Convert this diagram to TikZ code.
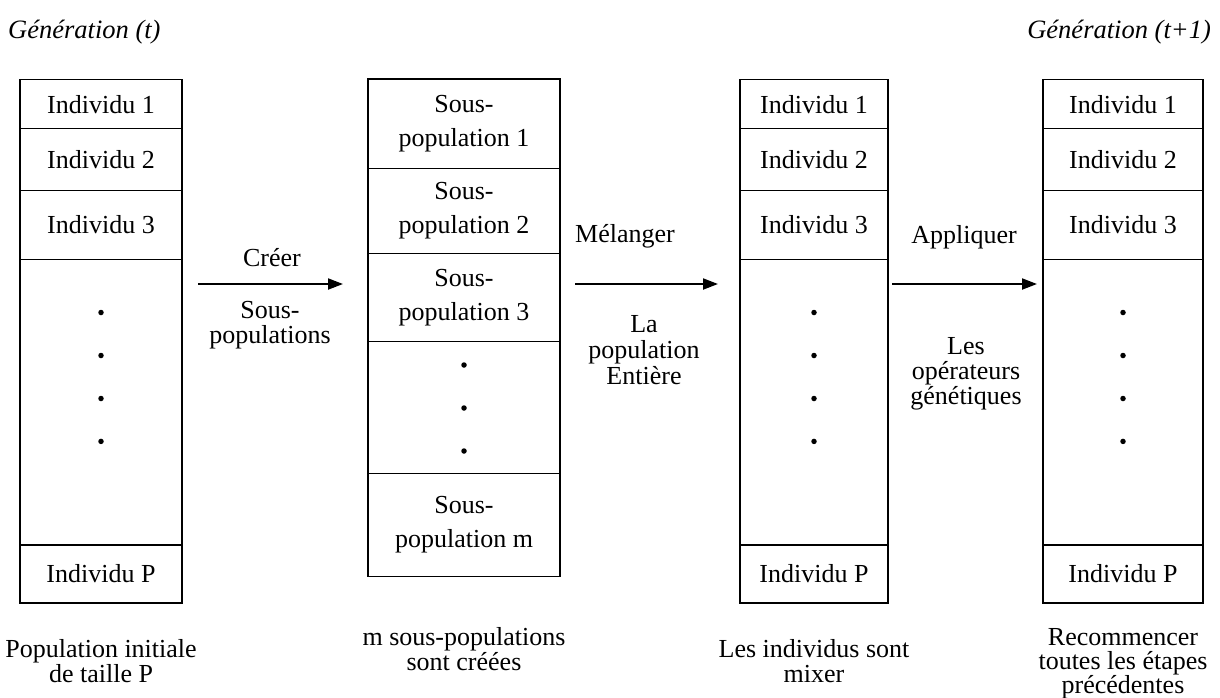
\documentclass[tikz,border=0pt]{standalone}
\usepackage{fontspec}
\setmainfont{Liberation Serif}
\usetikzlibrary{arrows.meta}
\newcommand\cellfont{\fontsize{26}{34}\selectfont}
\newcommand\labfont{\fontsize{26}{25}\selectfont}
\begin{document}
\begin{tikzpicture}[x=1pt,y=-1pt,
  cell/.style={draw, line width=1.4pt, inner sep=0pt, align=center, font=\cellfont},
  dotn/.style={circle, fill, inner sep=0pt, minimum size=5.5pt},
  lab/.style={inner sep=0pt, align=center, font=\labfont},
  head/.style={inner sep=0pt, font=\fontsize{26.5}{30}\selectfont\itshape},
  arr/.style={line width=2pt, -{Triangle[length=15pt,width=11pt]}}]
\useasboundingbox (0,0) rectangle (1220,697);
% headers
\node[head, anchor=west] (h1) at (8,32) {Génération (t)};
\node[head, anchor=east] (h2) at (1211,32) {Génération (t+1)};
% box 1
\node[cell, minimum width=162pt, minimum height=49.1pt] (a1) at (101,104.15) {Individu 1};
\node[cell, minimum width=162pt, minimum height=61.9pt] (a2) at (101,159.65) {Individu 2};
\node[cell, minimum width=162pt, minimum height=68.7pt] (a3) at (101,224.95) {Individu 3};
\node[cell, minimum width=162pt, minimum height=285.7pt] (a4) at (101,402.15) {};
\node[cell, minimum width=162pt, minimum height=58pt] (a5) at (101,574) {Individu P};
\node[dotn] (ad1) at (101,312.5) {};
\node[dotn] (ad2) at (101,355.5) {};
\node[dotn] (ad3) at (101,398.5) {};
\node[dotn] (ad4) at (101,441.4) {};
% box 2
\node[cell, minimum width=192pt, minimum height=89.6pt] (b1) at (464,123.7) {Sous-\\population 1};
\node[cell, minimum width=192pt, minimum height=84.9pt] (b2) at (464,210.95) {Sous-\\population 2};
\node[cell, minimum width=192pt, minimum height=88.3pt] (b3) at (464,297.55) {Sous-\\population 3};
\node[cell, minimum width=192pt, minimum height=131.6pt] (b4) at (464,407.5) {};
\node[cell, minimum width=192pt, minimum height=103.1pt] (b5) at (464,524.85) {Sous-\\population m};
\node[dotn] (bd1) at (464,365) {};
\node[dotn] (bd2) at (464,408) {};
\node[dotn] (bd3) at (464,451) {};
% box 3
\node[cell, minimum width=148pt, minimum height=49.1pt] (c1) at (814,104.15) {Individu 1};
\node[cell, minimum width=148pt, minimum height=61.9pt] (c2) at (814,159.65) {Individu 2};
\node[cell, minimum width=148pt, minimum height=68.7pt] (c3) at (814,224.95) {Individu 3};
\node[cell, minimum width=148pt, minimum height=285.7pt] (c4) at (814,402.15) {};
\node[cell, minimum width=148pt, minimum height=58pt] (c5) at (814,574) {Individu P};
\node[dotn] (cd1) at (814,312.5) {};
\node[dotn] (cd2) at (814,355.5) {};
\node[dotn] (cd3) at (814,398.5) {};
\node[dotn] (cd4) at (814,441.4) {};
% box 4
\node[cell, minimum width=160pt, minimum height=49.1pt] (d1) at (1123,104.15) {Individu 1};
\node[cell, minimum width=160pt, minimum height=61.9pt] (d2) at (1123,159.65) {Individu 2};
\node[cell, minimum width=160pt, minimum height=68.7pt] (d3) at (1123,224.95) {Individu 3};
\node[cell, minimum width=160pt, minimum height=285.7pt] (d4) at (1123,402.15) {};
\node[cell, minimum width=160pt, minimum height=58pt] (d5) at (1123,574) {Individu P};
\node[dotn] (dd1) at (1123,312.5) {};
\node[dotn] (dd2) at (1123,355.5) {};
\node[dotn] (dd3) at (1123,398.5) {};
\node[dotn] (dd4) at (1123,441.4) {};
% arrows
\coordinate (p1s) at (198,284);
\coordinate (p1e) at (343,284);
\coordinate (p2s) at (575,284);
\coordinate (p2e) at (718,284);
\coordinate (p3s) at (892,284);
\coordinate (p3e) at (1037,284);
\draw[arr] (p1s) -- (p1e);
\draw[arr] (p2s) -- (p2e);
\draw[arr] (p3s) -- (p3e);
% arrow labels
\node[lab] (l1a) at (272,258) {Créer};
\node[lab] (l1b) at (270,325) {Sous-\\populations};
\node[lab] (l2a) at (625,236) {Mélanger};
\node[lab, font=\fontsize{26}{26}\selectfont] (l2b) at (644,350) {La\\population\\Entière};
\node[lab] (l3a) at (964,237) {Appliquer};
\node[lab] (l3b) at (966,373.5) {Les\\opérateurs\\génétiques};
% bottom labels
\node[lab] (f1) at (101,661) {Population initiale\\de taille P};
\node[lab] (f2) at (464,649) {m sous-populations\\sont créées};
\node[lab] (f3) at (814,661) {Les individus sont\\mixer};
\node[lab, font=\fontsize{26}{23.5}\selectfont] (f4) at (1123,664) {Recommencer\\toutes les étapes\\précédentes};
\end{tikzpicture}
\end{document}
